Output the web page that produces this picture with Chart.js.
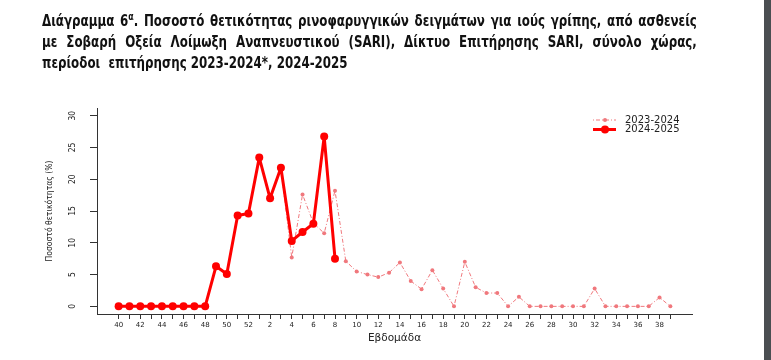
<!DOCTYPE html>
<html>
<head>
<meta charset="utf-8">
<script src="https://cdn.jsdelivr.net/npm/chart.js@4.4.1/dist/chart.umd.min.js"></script>
<style>
  body { margin: 0; background: #fff; }
  #wrap { position: relative; width: 771px; height: 360px; overflow: hidden; }
  #title { position: absolute; left: 42px; top: 11px; width: 745px; z-index: 2;
           transform: scaleX(0.879); transform-origin: left top;
           font-family: "DejaVu Sans Condensed", "DejaVu Sans", sans-serif;
           font-weight: bold; font-size: 15px; line-height: 21px; color: #111; }
  #title .j { text-align: justify; text-align-last: justify; white-space: nowrap; }
  #title sup { font-size: 10px; line-height: 0; }
  #chart { position: absolute; left: 0; top: 0; }
  #strip { position: absolute; left: 764px; top: 0; width: 7px; height: 360px; background: #4b4e52; }
</style>
</head>
<body>
<div id="wrap">
  <div id="title">
    <div class="j">Διάγραμμα 6<sup>α</sup>. Ποσοστό θετικότητας ρινοφαρυγγικών δειγμάτων για ιούς γρίπης, από ασθενείς</div>
    <div class="j">με Σοβαρή Οξεία Λοίμωξη Αναπνευστικού (SARI), Δίκτυο Επιτήρησης SARI, σύνολο χώρας,</div>
    <div>περίοδοι&nbsp; επιτήρησης 2023-2024*, 2024-2025</div>
  </div>
  <canvas id="chart" width="771" height="360"></canvas>
  <div id="strip"></div>
</div>
<script>
// εβδομάδες 40-52 και 1-39
const weeks = ['40','41','42','43','44','45','46','47','48','49','50','51','52',
  '1','2','3','4','5','6','7','8','9','10','11','12','13','14','15','16','17','18','19','20',
  '21','22','23','24','25','26','27','28','29','30','31','32','33','34','35','36','37','38','39'];

const season2324 = [null,null,null,null,null,null,null,null,null,null,null,null,null,
  null,null,21.6,7.7,17.6,13.1,11.5,18.2,7.1,5.5,5.0,4.6,5.3,6.9,4.0,2.7,5.7,2.8,0,7.0,
  3.0,2.1,2.1,0,1.5,0,0,0,0,0,0,2.8,0,0,0,0,0,1.4,0];

const season2425 = [0,0,0,0,0,0,0,0,0,6.3,5.1,14.3,14.6,
  23.4,17.0,21.8,10.3,11.7,13.0,26.7,7.5,null,null,null,null,null,null,null,null,null,null,null,null,
  null,null,null,null,null,null,null,null,null,null,null,null,null,null,null,null,null,null,null];

const yTicks = [0, 5, 10, 15, 20, 25, 30];
const seriesNames = ['2023-2024', '2024-2025'];

const toPoints = arr => arr.map((v, i) => ({ x: i, y: v }));

// υπόμνημα σε στυλ R: γραμμή + σημείο
const legendPlugin = {
  id: 'rlegend',
  afterDraw(chart) {
    const ctx = chart.ctx;
    const a = chart.chartArea;
    const x0 = a.right - 99, x1 = a.right - 76, xc = a.right - 87, xt = a.right - 67;
    const rows = [a.top + 12, a.top + 21.5];
    chart.data.datasets.forEach((ds, k) => {
      const y = rows[k];
      ctx.save();
      ctx.strokeStyle = ds.borderColor;
      ctx.lineWidth = ds.borderWidth;
      ctx.setLineDash(ds.borderDash || []);
      ctx.beginPath();
      ctx.moveTo(x0, y);
      ctx.lineTo(x1, y);
      ctx.stroke();
      ctx.setLineDash([]);
      ctx.fillStyle = ds.pointBackgroundColor;
      ctx.beginPath();
      ctx.arc(xc, y, ds.pointRadius, 0, Math.PI * 2);
      ctx.fill();
      ctx.fillStyle = '#222';
      ctx.font = '10px "DejaVu Sans"';
      ctx.textBaseline = 'middle';
      ctx.fillText(ds.label, xt, y);
      ctx.restore();
    });
  }
};

const data = {
  datasets: [{
    label: seriesNames[0],
    data: toPoints(season2324),
    borderColor: 'rgb(240, 120, 125)',
    pointBackgroundColor: 'rgb(240, 120, 125)',
    pointBorderWidth: 0,
    borderWidth: 1,
    borderDash: [1, 2, 4, 2],
    pointRadius: 2,
    order: 2
  }, {
    label: seriesNames[1],
    data: toPoints(season2425),
    borderColor: 'rgb(255, 0, 0)',
    pointBackgroundColor: 'rgb(255, 0, 0)',
    pointBorderWidth: 0,
    borderWidth: 3,
    borderJoinStyle: 'round',
    pointRadius: 4,
    order: 1
  }]
};

const config = {
  type: 'line',
  data: data,
  plugins: [legendPlugin],
  options: {
    responsive: false,
    animation: false,
    layout: { padding: { left: 40, top: 108, right: 79, bottom: 10 } },
    plugins: { legend: { display: false }, tooltip: { enabled: false } },
    scales: {
      x: {
        type: 'linear',
        min: -2,
        max: 53,
        afterBuildTicks: scale => { scale.ticks = weeks.map((w, i) => ({ value: i })); },
        afterFit: scale => { scale.height = 36; },
        grid: { drawOnChartArea: false, color: '#333', tickLength: 5 },
        border: { display: true, color: '#333', width: 1 },
        ticks: {
          autoSkip: false,
          maxRotation: 0,
          padding: 2,
          color: '#222',
          font: { family: 'DejaVu Sans', size: 7 },
          callback: (value, index) => (index % 2 === 0 ? weeks[index] : '')
        },
        title: {
          display: true,
          text: 'Εβδομάδα',
          color: '#222',
          font: { family: 'DejaVu Sans', size: 10.5 },
          padding: { top: 0, bottom: 5 }
        }
      },
      y: {
        min: -1.2,
        max: 31.2,
        afterBuildTicks: scale => { scale.ticks = yTicks.map(v => ({ value: v })); },
        afterFit: scale => { scale.width = 57; },
        grid: { drawOnChartArea: false, color: '#333', tickLength: 7 },
        border: { display: true, color: '#333', width: 1 },
        ticks: {
          minRotation: 90,
          maxRotation: 90,
          crossAlign: 'center',
          padding: 12,
          color: '#222',
          font: { family: 'DejaVu Sans Condensed', size: 8.5 }
        },
        title: {
          display: true,
          text: 'Ποσοστό θετικότητας (%)',
          color: '#222',
          font: { family: 'DejaVu Sans Condensed', size: 8.5 },
          padding: { top: 5, bottom: 0 }
        }
      }
    }
  }
};

const myChart = new Chart(document.getElementById('chart'), config);
</script>
</body>
</html>
